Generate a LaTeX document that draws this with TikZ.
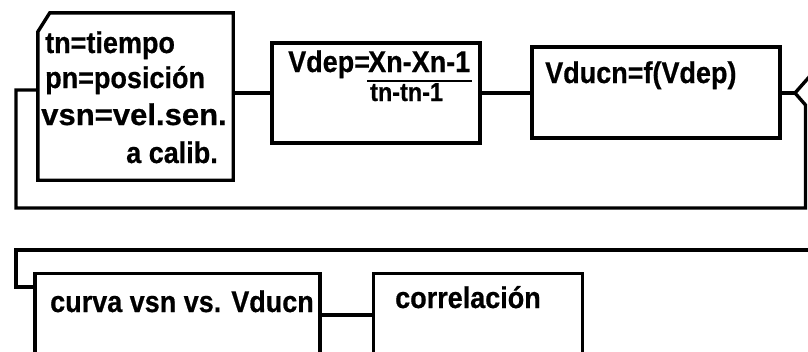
\documentclass[tikz,border=0pt]{standalone}
\usepackage{fontspec}
\newfontfamily\condfont[FakeStretch=0.9,FakeBold=0.6]{Liberation Sans}
\tikzset{
  box/.style={draw, line width=3.4pt, rectangle, inner sep=0pt},
  link/.style={line width=3.4pt, line join=miter},
  lbl/.style={inner sep=0pt, font=\condfont\bfseries\fontsize{30}{32}\selectfont},
  lblsmall/.style={inner sep=0pt, font=\condfont\bfseries\fontsize{26}{28}\selectfont},
}
\begin{document}
\begin{tikzpicture}[x=1pt,y=-1pt]
\useasboundingbox (0,0) rectangle (808,351);

% data box with a cut upper left corner
\node[rectangle, inner sep=0pt, minimum width=195pt, minimum height=167pt] (datos) at (135.5,96.5) {};
\draw[link] ([xshift=12pt]datos.north west) -- (datos.north east) -- (datos.south east)
  -- (datos.south west) -- ([yshift=-19pt]datos.north west) -- cycle;

% process boxes, upper row
\node[box, minimum width=208pt, minimum height=100pt] (vdep) at (376,93) {};
\node[box, minimum width=248pt, minimum height=91pt] (vducn) at (656,92.5) {};

% process boxes, lower row
\node[box, minimum width=285pt, minimum height=82pt] (curva) at (177.5,314.5) {};
\node[box, minimum width=209pt, minimum height=82pt] (correl) at (478,314.5) {};

% texts
\node[lbl, anchor=base west] (t1) at (45,53) {tn=tiempo};
\node[lbl, anchor=base west] (t2) at (45,88) {pn=posición};
\node[lbl, anchor=base west] (t3) at (41,125) {\scalebox{1.15}[1]{vsn=vel.sen.}};
\node[lbl, anchor=base east] (t4) at (218,163) {a calib.};

\node[lbl, anchor=base west] (vd) at (288,72) {Vdep=};
\node[lbl, anchor=base west] (num) at (368,72) {Xn-Xn-1};
\node[lblsmall, anchor=base west] (den) at (370,101) {tn-tn-1};
\coordinate (fbl) at (367,81);
\coordinate (fbr) at (472,81);
\draw[line width=2.8pt] (fbl) -- (fbr);

\node[lbl, anchor=base west] (vf) at (545,83) {Vducn=f(Vdep)};
\node[lbl, anchor=base west] (cv) at (50,312) {curva vsn vs. Vducn};
\node[lbl, anchor=base west] (cr) at (395,308) {correlación};

% connectors of the upper row
\draw[link] (vdep.west -| datos.east) -- (vdep.west);
\draw[link] (vdep.east) -- (vdep.east -| vducn.west);

% decision point and loop back to the first box
\coordinate (dp) at (795,93);
\coordinate (dtop) at (810,76);
\coordinate (dlow) at (805.5,105);
\coordinate (dbot) at (805.5,208);
\coordinate (lbot) at (16,208);
\coordinate (ltop) at (16,90);
\draw[link] (vducn.east |- dp) -- (dp);
\draw[link] (dtop) -- (dp) -- (dlow) -- (dbot) -- (lbot) -- (ltop) -- (ltop -| datos.west);

% connectors of the lower row
\coordinate (rtop) at (812,250);
\coordinate (ltop2) at (16,250);
\coordinate (lmid2) at (16,287);
\draw[link] (rtop) -- (ltop2) -- (lmid2) -- (lmid2 -| curva.west);
\draw[link] (curva.east |- 0,315) -- (correl.west |- 0,315);
\end{tikzpicture}
\end{document}
